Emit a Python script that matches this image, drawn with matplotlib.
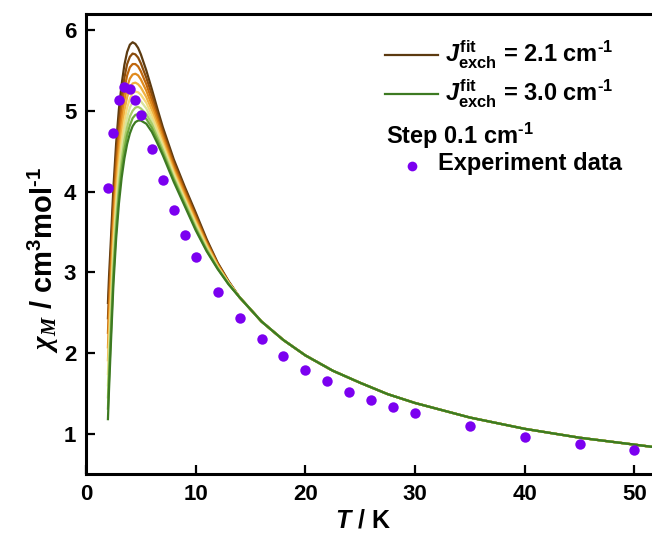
import matplotlib
matplotlib.use("Agg")
import matplotlib.pyplot as plt

plt.rcParams['font.family'] = ['Liberation Sans', 'DejaVu Sans']
plt.rcParams['font.weight'] = 'bold'
plt.rcParams['mathtext.fontset'] = 'custom'
plt.rcParams['mathtext.rm'] = 'Liberation Sans:bold'
plt.rcParams['mathtext.bf'] = 'Liberation Sans:bold'
plt.rcParams['mathtext.it'] = 'Liberation Sans:italic:bold'
plt.rcParams['mathtext.sf'] = 'Liberation Serif:italic'

# experimental susceptibility
T_exp = [2, 2.5, 3, 3.5, 4, 4.5, 5, 6, 7, 8, 9, 10, 12, 14, 16, 18, 20,
         22, 24, 26, 28, 30, 35, 40, 45, 50]
chi_exp = [4.04, 4.73, 5.14, 5.29, 5.27, 5.13, 4.95, 4.53, 4.14, 3.77, 3.46,
           3.19, 2.76, 2.43, 2.17, 1.96, 1.79, 1.65, 1.52, 1.42, 1.33, 1.25,
           1.09, 0.96, 0.87, 0.80]

# simulated curves, J = 2.1 ... 3.0 cm-1 (low-T part differs, tail is common)
T_head = [2.0, 2.1, 2.25, 2.5, 2.75, 3.0, 3.25, 3.5, 3.75, 4.0, 4.25, 4.5,
          4.75, 5.0, 5.5, 6.0, 6.5, 7.0, 8.0, 9.0, 10.0, 11.0, 12.0, 13.0]
T_tail = [14, 16, 18, 20, 22.5, 25, 27.5, 30, 35, 40, 45, 52]
chi_tail = [2.69, 2.39, 2.16, 1.97, 1.78, 1.63, 1.49, 1.38, 1.20, 1.06, 0.95, 0.83]

J_vals = [2.1, 2.2, 2.3, 2.4, 2.5, 2.6, 2.7, 2.8, 2.9, 3.0]
chi_J21 = [2.62, 2.95, 3.35, 4.05, 4.60, 5.02, 5.33, 5.57, 5.73, 5.82, 5.85, 5.83,
           5.78, 5.70, 5.50, 5.27, 5.03, 4.80, 4.40, 4.06, 3.74, 3.41, 3.12, 2.89]
chi_J22 = [2.43, 2.76, 3.18, 3.89, 4.44, 4.86, 5.17, 5.41, 5.58, 5.67, 5.71, 5.70,
           5.66, 5.59, 5.41, 5.20, 4.97, 4.75, 4.36, 4.03, 3.71, 3.39, 3.11, 2.88]
chi_J23 = [2.25, 2.59, 3.02, 3.74, 4.30, 4.72, 5.03, 5.27, 5.44, 5.54, 5.58, 5.58,
           5.55, 5.49, 5.33, 5.13, 4.92, 4.71, 4.33, 4.00, 3.68, 3.37, 3.10, 2.88]
chi_J24 = [2.07, 2.42, 2.86, 3.59, 4.15, 4.57, 4.89, 5.13, 5.30, 5.40, 5.45, 5.46,
           5.44, 5.39, 5.25, 5.07, 4.87, 4.67, 4.29, 3.97, 3.66, 3.35, 3.09, 2.87]
chi_J25 = [1.91, 2.26, 2.71, 3.46, 4.02, 4.44, 4.76, 5.00, 5.17, 5.28, 5.34, 5.35,
           5.33, 5.29, 5.17, 5.01, 4.82, 4.63, 4.26, 3.94, 3.63, 3.34, 3.08, 2.87]
chi_J26 = [1.74, 2.10, 2.56, 3.32, 3.88, 4.31, 4.63, 4.87, 5.04, 5.15, 5.22, 5.24,
           5.23, 5.20, 5.10, 4.95, 4.77, 4.59, 4.23, 3.91, 3.61, 3.32, 3.07, 2.87]
chi_J27 = [1.60, 1.96, 2.43, 3.20, 3.76, 4.19, 4.51, 4.75, 4.92, 5.04, 5.11, 5.14,
           5.14, 5.12, 5.03, 4.89, 4.72, 4.55, 4.20, 3.89, 3.58, 3.30, 3.06, 2.86]
chi_J28 = [1.45, 1.81, 2.29, 3.07, 3.64, 4.07, 4.39, 4.63, 4.80, 4.93, 5.00, 5.04,
           5.05, 5.03, 4.96, 4.84, 4.68, 4.52, 4.17, 3.87, 3.56, 3.29, 3.05, 2.86]
chi_J29 = [1.31, 1.68, 2.17, 2.96, 3.53, 3.96, 4.28, 4.52, 4.70, 4.82, 4.91, 4.95,
           4.96, 4.96, 4.90, 4.79, 4.64, 4.48, 4.15, 3.84, 3.54, 3.27, 3.05, 2.85]
chi_J30 = [1.18, 1.55, 2.05, 2.85, 3.42, 3.85, 4.17, 4.41, 4.59, 4.72, 4.81, 4.86,
           4.88, 4.88, 4.84, 4.74, 4.60, 4.45, 4.12, 3.82, 3.52, 3.26, 3.04, 2.85]
chi_sim = [chi_J21, chi_J22, chi_J23, chi_J24, chi_J25,
           chi_J26, chi_J27, chi_J28, chi_J29, chi_J30]

colors = ['#5c3a10', '#8a4c0c', '#c0670c', '#e08a1c', '#f0b040',
          '#f5d878', '#d8e49a', '#a8cc68', '#6ea83c', '#3d7a22']

fig = plt.figure(figsize=(6.52, 5.41), dpi=100)
ax = fig.add_axes([0.1319, 0.1238, 0.8681, 0.8503])

for chi, c in zip(chi_sim, colors):
    ax.plot(T_head + T_tail, chi + chi_tail, color=c, lw=1.6, zorder=2)

ax.plot(T_exp, chi_exp, 'o', color='#7b00f0', ms=7.5, mec='none', zorder=3)

ax.set_xlim(0, 51.6)
ax.set_ylim(0.5, 6.2)
ax.set_xticks([0, 10, 20, 30, 40, 50])
ax.set_yticks([1, 2, 3, 4, 5, 6])
ax.tick_params(direction='in', length=6.5, width=1.6, labelsize=16, pad=7)
for lab in ax.get_xticklabels() + ax.get_yticklabels():
    lab.set_fontweight('bold')
for s in ['left', 'bottom', 'top']:
    ax.spines[s].set_linewidth(2.2)
ax.spines['right'].set_visible(False)

ax.set_xlabel(r'$T$ / K', fontsize=18, fontweight='bold')
ax.xaxis.set_label_coords(0.49, -0.075)
ax.set_ylabel(r'$\mathsf{\chi_M}$ / cm$^{3}$mol$^{\text{-1}}$', fontsize=21, fontweight='bold')
ax.yaxis.set_label_coords(-0.045, 0.465)

# hand-built legend
tr = ax.transAxes
ax.plot([0.528, 0.622], [0.911, 0.911], color=colors[0], lw=1.6, transform=tr, clip_on=False)
ax.plot([0.528, 0.622], [0.826, 0.826], color=colors[-1], lw=1.6, transform=tr, clip_on=False)
ax.text(0.634, 0.911, r'$J_{\mathrm{exch}}^{\mathrm{fit}}$ = 2.1 cm$^{\text{-1}}$', transform=tr,
        fontsize=17, fontweight='bold', va='center', ha='left')
ax.text(0.634, 0.826, r'$J_{\mathrm{exch}}^{\mathrm{fit}}$ = 3.0 cm$^{\text{-1}}$', transform=tr,
        fontsize=17, fontweight='bold', va='center', ha='left')
ax.text(0.530, 0.735, r'Step 0.1 cm$^{\text{-1}}$', transform=tr,
        fontsize=17, fontweight='bold', va='center', ha='left')
ax.plot([0.576], [0.67], 'o', color='#7b00f0', ms=7, mec='none', transform=tr, clip_on=False)
ax.text(0.622, 0.674, 'Experiment data', transform=tr,
        fontsize=17, fontweight='bold', va='center', ha='left')

fig.savefig('out.png', dpi=100)
